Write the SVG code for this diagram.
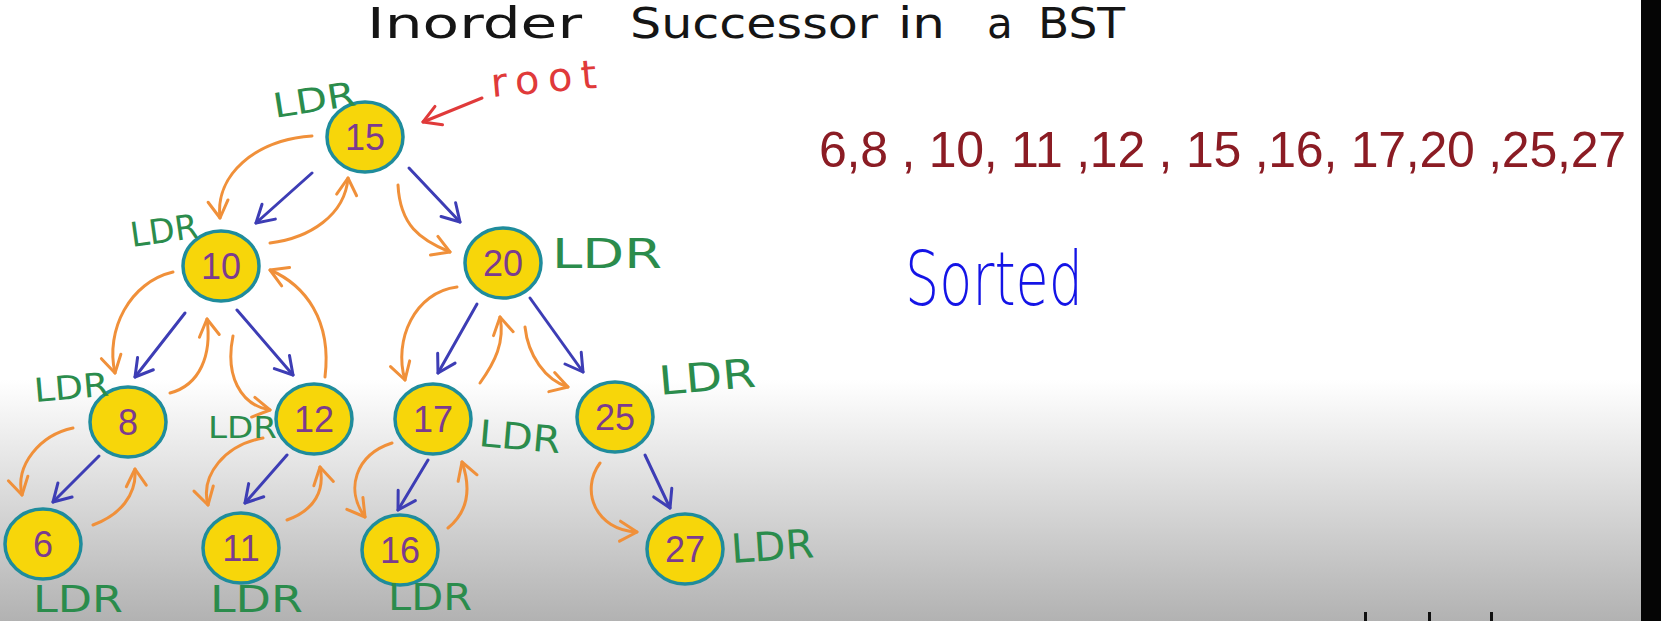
<svg xmlns="http://www.w3.org/2000/svg" width="1661" height="621" viewBox="0 0 1661 621">
<defs>
<linearGradient id="bg" gradientUnits="userSpaceOnUse" x1="0" y1="380" x2="0" y2="621">
<stop offset="0" stop-color="#ffffff"/>
<stop offset="1" stop-color="#b2b2b2"/>
</linearGradient>
<marker id="mb" markerUnits="userSpaceOnUse" markerWidth="26" markerHeight="26" viewBox="0 0 26 26" refX="22" refY="13" orient="auto">
<path d="M5,3 L22,13 L5,23" fill="none" stroke="#3d3db5" stroke-width="3" stroke-linecap="round" stroke-linejoin="round"/>
</marker>
<marker id="mo" markerUnits="userSpaceOnUse" markerWidth="26" markerHeight="26" viewBox="0 0 26 26" refX="22" refY="13" orient="auto">
<path d="M5,3 L22,13 L5,23" fill="none" stroke="#f0903a" stroke-width="3" stroke-linecap="round" stroke-linejoin="round"/>
</marker>
<marker id="mr" markerUnits="userSpaceOnUse" markerWidth="26" markerHeight="26" viewBox="0 0 26 26" refX="22" refY="13" orient="auto">
<path d="M5,3 L22,13 L5,23" fill="none" stroke="#e03a3a" stroke-width="3" stroke-linecap="round" stroke-linejoin="round"/>
</marker>
</defs>
<style>
.node ellipse{fill:#f7d60a;stroke:#1f8c9c;stroke-width:3.5}
.node text{font-family:"Liberation Sans",Arial,sans-serif;font-size:36px;fill:#7b3b8f;text-anchor:middle}
.ldr{font-family:"DejaVu Sans",sans-serif;fill:#2b8c4c}
.blue{stroke:#3d3db5;stroke-width:3;fill:none;stroke-linecap:round;marker-end:url(#mb)}
.orange{stroke:#f0903a;stroke-width:3;fill:none;stroke-linecap:round;marker-end:url(#mo)}
.title{font-family:"DejaVu Sans",sans-serif;font-size:42px;fill:#151515}
</style>
<rect x="0" y="0" width="1661" height="621" fill="#ffffff"/>
<rect x="0" y="380" width="1661" height="241" fill="url(#bg)"/>
<rect x="1641" y="0" width="20" height="621" fill="#050505"/>
<rect x="1364" y="612" width="3" height="9" fill="#111"/>
<rect x="1428" y="612" width="3" height="9" fill="#111"/>
<rect x="1490" y="612" width="3" height="9" fill="#111"/>

<g id="title">
<text class="title" x="367" y="38" textLength="215" lengthAdjust="spacingAndGlyphs">Inorder</text>
<text class="title" x="630" y="38" textLength="248" lengthAdjust="spacingAndGlyphs">Successor</text>
<text class="title" x="898" y="38" textLength="47" lengthAdjust="spacingAndGlyphs">in</text>
<text class="title" x="987" y="38">a</text>
<text class="title" x="1038" y="38" textLength="87" lengthAdjust="spacingAndGlyphs">BST</text>
</g>

<g id="connectors">
<line class="blue" x1="312" y1="173" x2="256" y2="223"/>
<line class="blue" x1="409" y1="168" x2="460" y2="222"/>
<line class="blue" x1="185" y1="313" x2="135" y2="377"/>
<line class="blue" x1="237" y1="310" x2="293" y2="375"/>
<line class="blue" x1="477" y1="304" x2="438" y2="373"/>
<line class="blue" x1="530" y1="298" x2="583" y2="372"/>
<line class="blue" x1="99" y1="456" x2="53" y2="502"/>
<line class="blue" x1="287" y1="455" x2="245" y2="503"/>
<line class="blue" x1="428" y1="460" x2="398" y2="510"/>
<line class="blue" x1="645" y1="455" x2="670" y2="508"/>
<path class="orange" d="M312,136 C255,140 215,175 220,218"/>
<path class="orange" d="M270,243 C310,238 345,215 348,178"/>
<path class="orange" d="M398,185 C400,225 420,240 450,252"/>
<path class="orange" d="M173,272 C130,282 105,330 115,373"/>
<path class="orange" d="M170,393 C200,385 212,355 207,319"/>
<path class="orange" d="M233,336 C225,375 240,405 270,410"/>
<path class="orange" d="M325,377 C332,320 305,285 270,270"/>
<path class="orange" d="M457,287 C415,292 393,340 405,380"/>
<path class="orange" d="M480,383 C495,362 505,342 500,317"/>
<path class="orange" d="M525,327 C528,355 545,380 568,387"/>
<path class="orange" d="M73,428 C40,435 15,465 22,495"/>
<path class="orange" d="M93,525 C120,515 137,495 135,469"/>
<path class="orange" d="M263,438 C225,445 200,475 208,505"/>
<path class="orange" d="M287,520 C315,510 325,490 320,467"/>
<path class="orange" d="M392,443 C355,455 345,490 365,517"/>
<path class="orange" d="M448,528 C470,510 470,485 462,462"/>
<path class="orange" d="M600,463 C580,490 595,530 637,532"/>
<line x1="482" y1="98" x2="423" y2="122" stroke="#e03a3a" stroke-width="3" stroke-linecap="round" marker-end="url(#mr)"/>
</g>

<g id="n15" class="node"><ellipse cx="365" cy="137" rx="38" ry="35"/><text x="365" y="150">15</text></g>
<g id="n10" class="node"><ellipse cx="221" cy="266" rx="38" ry="35"/><text x="221" y="279">10</text></g>
<g id="n20" class="node"><ellipse cx="503" cy="263" rx="38" ry="35"/><text x="503" y="276">20</text></g>
<g id="n8" class="node"><ellipse cx="128" cy="422" rx="38" ry="35"/><text x="128" y="435">8</text></g>
<g id="n12" class="node"><ellipse cx="314" cy="419" rx="38" ry="35"/><text x="314" y="432">12</text></g>
<g id="n17" class="node"><ellipse cx="433" cy="419" rx="38" ry="35"/><text x="433" y="432">17</text></g>
<g id="n25" class="node"><ellipse cx="615" cy="417" rx="38" ry="35"/><text x="615" y="430">25</text></g>
<g id="n6" class="node"><ellipse cx="43" cy="544" rx="38" ry="35"/><text x="43" y="557">6</text></g>
<g id="n11" class="node"><ellipse cx="241" cy="548" rx="38" ry="35"/><text x="241" y="561">11</text></g>
<g id="n16" class="node"><ellipse cx="400" cy="550" rx="38" ry="35"/><text x="400" y="563">16</text></g>
<g id="n27" class="node"><ellipse cx="685" cy="549" rx="38" ry="35"/><text x="685" y="562">27</text></g>

<g id="labels">
<text class="ldr" font-size="34" x="275" y="118" textLength="83" lengthAdjust="spacingAndGlyphs" transform="rotate(-9 275 118)">LDR</text>
<text class="ldr" font-size="34" x="132" y="247" textLength="68" lengthAdjust="spacingAndGlyphs" transform="rotate(-8 132 247)">LDR</text>
<text class="ldr" font-size="40" x="552" y="268" textLength="110" lengthAdjust="spacingAndGlyphs">LDR</text>
<text class="ldr" font-size="33" x="35" y="402" textLength="75" lengthAdjust="spacingAndGlyphs" transform="rotate(-5 35 402)">LDR</text>
<text class="ldr" font-size="31" x="208" y="438" textLength="69" lengthAdjust="spacingAndGlyphs">LDR</text>
<text class="ldr" font-size="37" x="478" y="446" textLength="82" lengthAdjust="spacingAndGlyphs" transform="rotate(5 478 446)">LDR</text>
<text class="ldr" font-size="40" x="660" y="395" textLength="97" lengthAdjust="spacingAndGlyphs" transform="rotate(-5 660 395)">LDR</text>
<text class="ldr" font-size="38" x="33" y="612" textLength="90" lengthAdjust="spacingAndGlyphs">LDR</text>
<text class="ldr" font-size="38" x="210" y="612" textLength="93" lengthAdjust="spacingAndGlyphs">LDR</text>
<text class="ldr" font-size="38" x="388" y="610" textLength="84" lengthAdjust="spacingAndGlyphs">LDR</text>
<text class="ldr" font-size="40" x="732" y="563" textLength="83" lengthAdjust="spacingAndGlyphs" transform="rotate(-4 732 563)">LDR</text>
<text font-family="DejaVu Sans, sans-serif" font-size="40" fill="#e03a3a" x="492" y="97" textLength="106" lengthAdjust="spacing" transform="rotate(-5 492 97)">root</text>
</g>

<g id="sortedList">
<text font-family="Liberation Sans, Arial, sans-serif" font-size="50" fill="#8b1c24" x="819" y="167" textLength="807" lengthAdjust="spacing">6,8 , 10, 11 ,12 , 15 ,16, 17,20 ,25,27</text>
<text font-family="DejaVu Sans, sans-serif" font-weight="200" font-size="74" fill="#1414e6" x="905" y="305" textLength="178" lengthAdjust="spacingAndGlyphs">Sorted</text>
</g>
</svg>
